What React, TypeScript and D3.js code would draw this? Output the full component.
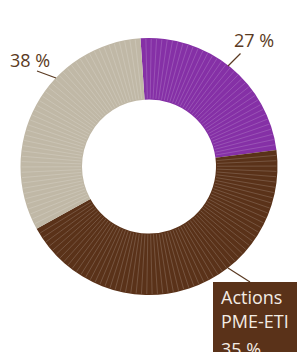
import React from "react";
import * as d3 from "d3";

// Slice shares as drawn and printed labels
const categories = ["Actions cotées", "Actions PME-ETI", "Autres"];
const sliceShares = [24, 44, 32];
const labelPercents = [27, 35, 38];
const colors = ["#8530a6", "#5a3219", "#c0b8a6"];

const W = 297;
const H = 352;
const cx = 149;
const cy = 166.5;
const outerR = 128.5;
const innerR = 67;
const startAngle = (-3.8 * Math.PI) / 180;
const seamStep = (2.4 * Math.PI) / 180;

export default function App() {
  const pie = d3
    .pie<number>()
    .sort(null)
    .startAngle(startAngle)
    .endAngle(startAngle + 2 * Math.PI)
    .value((d) => d);
  const arcs = pie(sliceShares);
  const arc = d3.arc<any>().innerRadius(innerR).outerRadius(outerR);

  const seams: number[] = [];
  arcs.forEach((a) => {
    const n = Math.max(1, Math.round((a.endAngle - a.startAngle) / seamStep));
    const step = (a.endAngle - a.startAngle) / n;
    for (let k = 1; k < n; k++) seams.push(a.startAngle + k * step);
  });

  const textColor = "#5a3a22";
  const font = "'Open Sans', 'Noto Sans', sans-serif";

  return (
    <svg
      width={W}
      height={H}
      style={{ position: "absolute", left: 0, top: 0, background: "#fff" }}
    >
      <g transform={`translate(${cx},${cy})`}>
        {arcs.map((a, i) => (
          <path key={"b" + i} d={arc({ startAngle: a.startAngle, endAngle: a.endAngle }) as string} fill={colors[i]} />
        ))}
        {seams.map((t, i) => (
          <line
            key={"s" + i}
            x1={Math.sin(t) * (innerR + 1)}
            y1={-Math.cos(t) * (innerR + 1)}
            x2={Math.sin(t) * (outerR - 1)}
            y2={-Math.cos(t) * (outerR - 1)}
            stroke="#ffffff"
            strokeOpacity={0.28}
            strokeWidth={0.6}
          />
        ))}
      </g>
      {/* leader lines */}
      <line x1={228} y1={66} x2={240.5} y2={53.5} stroke={textColor} strokeWidth={1.2} />
      <line x1={56} y1={78} x2={37} y2={71} stroke={textColor} strokeWidth={1.2} />
      <line x1={228} y1={268} x2={250} y2={282} stroke={textColor} strokeWidth={1.2} />
      {/* labels */}
      <text x={234} y={47} fontFamily={font} fontSize={18} fill={textColor}>
        {labelPercents[0] + " %"}
      </text>
      <text x={10} y={66.5} fontFamily={font} fontSize={18} fill={textColor}>
        {labelPercents[2] + " %"}
      </text>
      <rect x={213} y={282} width={100} height={80} fill="#5a3219" />
      <text fontFamily={font} fontSize={18} fill="#f3ece4">
        <tspan x={221} y={304}>Actions</tspan>
        <tspan x={221} y={328}>PME-ETI</tspan>
        <tspan x={221} y={356}>{labelPercents[1] + " %"}</tspan>
      </text>
    </svg>
  );
}
